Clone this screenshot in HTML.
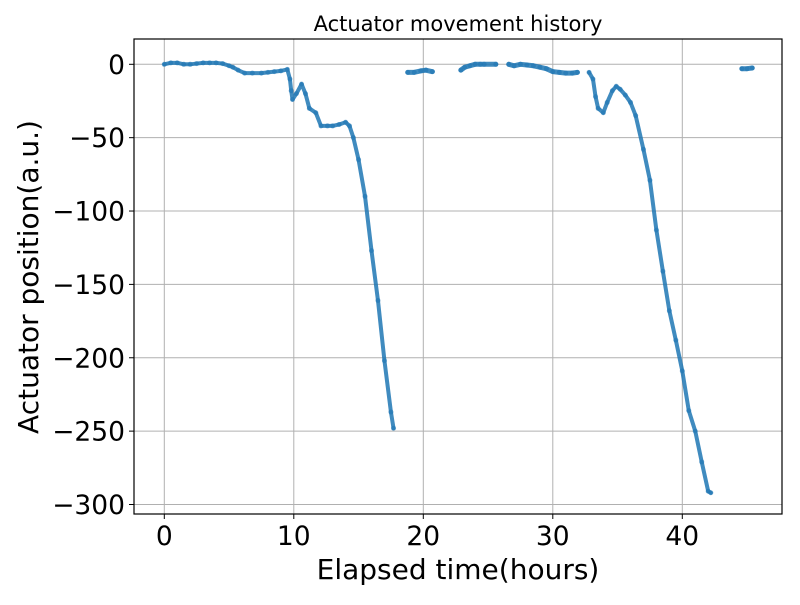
<!DOCTYPE html>
<html><head><meta charset="utf-8"><style>
body{margin:0;background:#fff;}
svg text{font-family:"DejaVu Sans","Liberation Sans",sans-serif;fill:#000;}
</style></head><body>
<svg id="chart" width="800" height="600" viewBox="0 0 800 600" xmlns="http://www.w3.org/2000/svg">
<rect width="800" height="600" fill="#fff"/>
<g id="grid"></g>
<g id="marks"></g>
<rect x="134" y="39" width="648" height="475" fill="none" stroke="#000" stroke-width="1.2"/>
<g id="ticks"></g>
<text x="458" y="31" font-size="21" text-anchor="middle">Actuator movement history</text>
<text x="458" y="579" font-size="28" text-anchor="middle">Elapsed time(hours)</text>
<text x="0" y="0" font-size="28" text-anchor="middle" transform="translate(38,277) rotate(-90)">Actuator position(a.u.)</text>
</svg>
<script>
const xTicks=[0,10,20,30,40];
const yTicks=[0,-50,-100,-150,-200,-250,-300];
const yTickLabels=["0","\u221250","\u2212100","\u2212150","\u2212200","\u2212250","\u2212300"];
const seg1T=[0,0.5,1,1.5,2,2.5,3,3.5,4,4.5,5,5.3,5.7,6.2,6.8,7.5,8,8.5,9,9.5,9.7,9.8,9.9,10.2,10.6,10.9,11.2,11.7,12.1,12.6,13,13.5,14,14.3,14.6,15,15.5,16,16.5,17,17.5,17.7];
const seg1V=[0,1,1,0,0,0.5,1,1,1,0.5,-1,-2,-4,-6,-6,-6,-5.5,-5,-4.5,-3.5,-10,-18,-24,-20,-13.5,-20,-30,-33,-42,-42,-42,-41,-39.5,-42,-50,-65,-90,-127,-161,-202,-237,-248];
const seg2T=[18.8,19.3,19.8,20.2,20.7];
const seg2V=[-5.5,-5.5,-4.5,-4,-5];
const seg3T=[22.9,23.2,23.6,24,24.4,24.7,25.6];
const seg3V=[-4,-2,-1,0,0,0,0];
const seg4T=[26.6,27,27.5,28,28.5,29,29.5,30,30.5,31,31.5,31.9];
const seg4V=[0,-1,0,-0.5,-1,-2,-3,-5,-5.5,-6,-6,-5.5];
const seg5T=[32.8,33.1,33.3,33.5,33.9,34.2,34.6,34.9,35.2,35.6,36,36.4,37,37.5,38,38.5,39,39.5,40,40.5,41,41.5,42,42.2];
const seg5V=[-5.5,-10,-22,-30,-33,-26,-18,-15,-17,-21,-26,-35,-58,-79,-113,-141,-168,-188,-209,-236,-250,-271,-291,-292];
const seg6T=[44.6,45,45.4];
const seg6V=[-3,-3,-2.5];
const series=[[seg1T,seg1V],[seg2T,seg2V],[seg3T,seg3V],[seg4T,seg4V],[seg5T,seg5V],[seg6T,seg6V]];
const X=t=>164.3+t*12.95;
const Y=v=>64.3-v*1.4673;
const NS="http://www.w3.org/2000/svg";
const grid=document.getElementById('grid'),ticks=document.getElementById('ticks'),marks=document.getElementById('marks');
function mk(tag,attrs,parent){const e=document.createElementNS(NS,tag);for(const k in attrs)e.setAttribute(k,attrs[k]);parent.appendChild(e);return e;}
xTicks.forEach(t=>{
 const g=mk('line',{x1:X(t),x2:X(t),y1:39,y2:514,stroke:'#b0b0b0','stroke-width':1},grid);
 
 
 mk('line',{x1:X(t),x2:X(t),y1:514,y2:519,stroke:'#000'},ticks);
 const l=mk('text',{x:X(t),y:545,'font-size':26.5,'text-anchor':'middle'},ticks);
 l.textContent=String(t);
 
 
});
yTicks.forEach((v,i)=>{
 const g=mk('line',{x1:134,x2:782,y1:Y(v),y2:Y(v),stroke:'#b0b0b0','stroke-width':1},grid);
 
 
 mk('line',{x1:129,x2:134,y1:Y(v),y2:Y(v),stroke:'#000'},ticks);
 const l=mk('text',{x:125,y:Y(v)+9.5,'font-size':26.5,'text-anchor':'end'},ticks);
 l.textContent=yTickLabels[i];
 
 
});
series.forEach(([T,V],si)=>{
 const pts=T.map((t,i)=>X(t)+','+Y(V[i])).join(' ');
 const pl=mk('polyline',{points:pts,fill:'none',stroke:'#1f77b4','stroke-width':si===0||si===4?4:5,'stroke-linejoin':'round','stroke-linecap':'round','stroke-opacity':0.85},marks);
 
 
 T.forEach((t,i)=>{
  const c=mk('circle',{cx:X(t),cy:Y(V[i]),r:2.5,fill:'#1f77b4','fill-opacity':0.6},marks);
  
  
 });
});
</script>
</body></html>
